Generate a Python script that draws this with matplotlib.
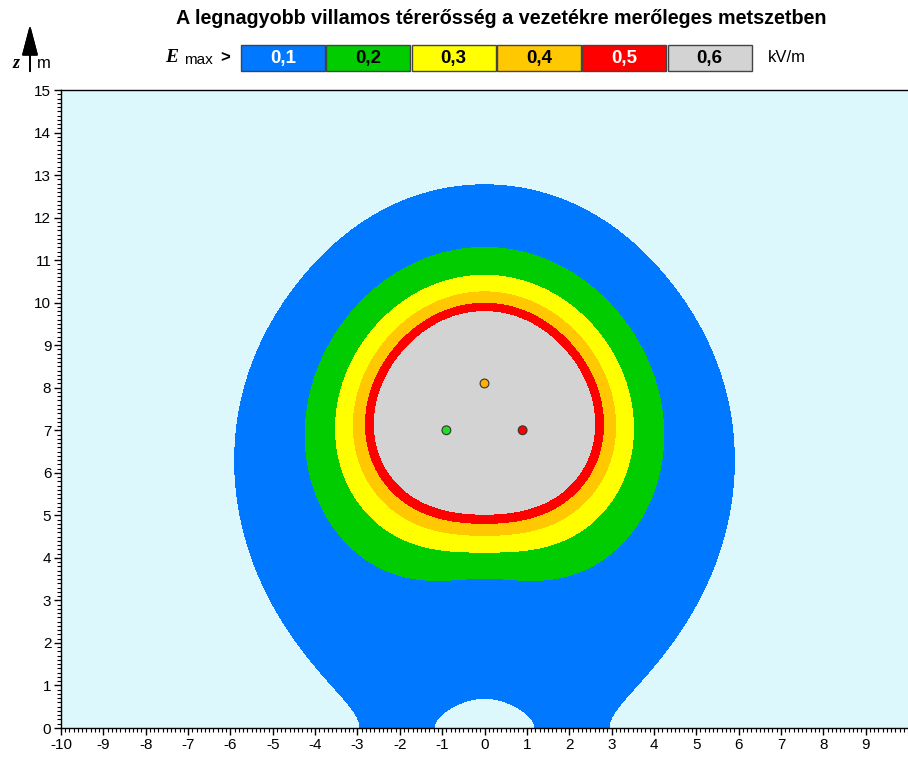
import numpy as np
import matplotlib.pyplot as plt
from matplotlib.ticker import MultipleLocator

plt.rcParams['font.family'] = ['Liberation Sans', 'DejaVu Sans']

# Conductors (x, z in m), phase angles and line charge amplitudes
cond_x = [-0.9, 0.0, 0.9]
cond_z = [7.0, 8.1, 7.0]
cond_colors = ['#22DD22', '#FFB000', '#FF0000']
phase_deg = [126, 0, -126]
charge_uc = [0.1115, 0.1271, 0.1115]   # µC/m

# Contour levels and colours (kV/m)
levels = [0.1, 0.2, 0.3, 0.4, 0.5, 0.6]
level_labels = ['0,1', '0,2', '0,3', '0,4', '0,5', '0,6']
level_colors = ['#0078FF', '#00CC00', '#FFFF00', '#FFC800', '#FF0000', '#D3D3D3']
label_colors = ['white', 'black', 'black', 'black', 'white', 'black']
bg_color = '#DCF8FC'

# ------------ field calculation ---------------
eps0 = 8.854e-12
cx = np.array(cond_x)
cz = np.array(cond_z)
q = np.array(charge_uc) * 1e-6 * np.exp(1j * np.radians(phase_deg)) / (2 * np.pi * eps0)

xs = np.linspace(-10, 10, 1001)
zs = np.linspace(0, 15, 751)
X, Z = np.meshgrid(xs, zs)
Ex = np.zeros_like(X, dtype=complex)
Ez = np.zeros_like(X, dtype=complex)
for i in range(len(cx)):
    dx = X - cx[i]
    dz = Z - cz[i]
    r2 = dx**2 + dz**2 + 1e-9
    dzi = Z + cz[i]
    ri2 = dx**2 + dzi**2
    # line charge plus its image below the ground
    Ex += q[i] * (dx / r2 - dx / ri2)
    Ez += q[i] * (dz / r2 - dzi / ri2)
# peak of the rotating field vector (major axis of the ellipse)
Emax = 0.5 * (np.abs(Ex)**2 + np.abs(Ez)**2 + np.abs(Ex**2 + Ez**2))
Emax = np.sqrt(Emax) / 1000.0  # kV/m

# ------------ plot ---------------
fig = plt.figure(figsize=(9.08, 7.58), dpi=100)
ax = fig.add_axes([61/908, 30/758, 847/908, 638/758])
ax.set_facecolor(bg_color)
ax.contourf(X, Z, Emax, levels=levels + [1e12], colors=level_colors)
ax.scatter(cond_x, cond_z, s=40, c=cond_colors, edgecolors='#333333', linewidths=0.8, zorder=5)

ax.set_xlim(-10, 10)
ax.set_ylim(0, 15)
ax.xaxis.set_minor_locator(MultipleLocator(0.1))
ax.yaxis.set_major_locator(MultipleLocator(1))
ax.yaxis.set_minor_locator(MultipleLocator(0.1))
ax.set_xticks(np.arange(-10, 10))
ax.set_xticklabels([str(v) for v in range(-10, 10)])
ax.tick_params(which='major', direction='out', length=5, width=1, labelsize=11, pad=2)
ax.tick_params(which='minor', direction='out', length=3, width=0.8)
ax.spines['right'].set_visible(False)
for s in ['left', 'bottom', 'top']:
    ax.spines[s].set_linewidth(1.0)

# title
fig.text(501/908, 1 - 18/758, 'A legnagyobb villamos térerősség a vezetékre merőleges metszetben',
         ha='center', va='center', fontsize=14.2, fontweight='bold')

# legend boxes
box_x0 = 241
box_w = 84
box_gap = 1.3
for k in range(len(levels)):
    x0 = box_x0 + k * (box_w + box_gap)
    rect = plt.Rectangle((x0/908, 1 - 71/758), box_w/908, 26/758, transform=fig.transFigure,
                         facecolor=level_colors[k], edgecolor='#444444', linewidth=1.0)
    fig.add_artist(rect)
    fig.text((x0 + box_w/2)/908, 1 - 58/758, level_labels[k], ha='center', va='center',
             fontsize=13.5, fontweight='bold', color=label_colors[k])
fig.text(165/908, 1 - 57/758, 'E', ha='left', va='center', fontsize=14,
         family='Liberation Serif', style='italic', fontweight='bold')
fig.text(184/908, 1 - 60/758, 'max', ha='left', va='center', fontsize=11)
fig.text(220/908, 1 - 58/758, '>', ha='left', va='center', fontsize=12, fontweight='bold')
fig.text(768/908, 1 - 58/758, 'kV/m', ha='left', va='center', fontsize=12)

# z axis arrow
fig.add_artist(plt.annotate('', xy=(30/908, 1 - 22/758), xytext=(30/908, 1 - 74/758),
                            xycoords='figure fraction',
                            arrowprops=dict(arrowstyle='-|>,head_length=1.9,head_width=0.5',
                                            color='black', lw=1.3, mutation_scale=10)))
fig.text(16/908, 1 - 63/758, 'z', ha='center', va='center', fontsize=13,
         family='Liberation Serif', style='italic', fontweight='bold')
fig.text(44/908, 1 - 63/758, 'm', ha='center', va='center', fontsize=12)

fig.savefig('out.png', dpi=100)
